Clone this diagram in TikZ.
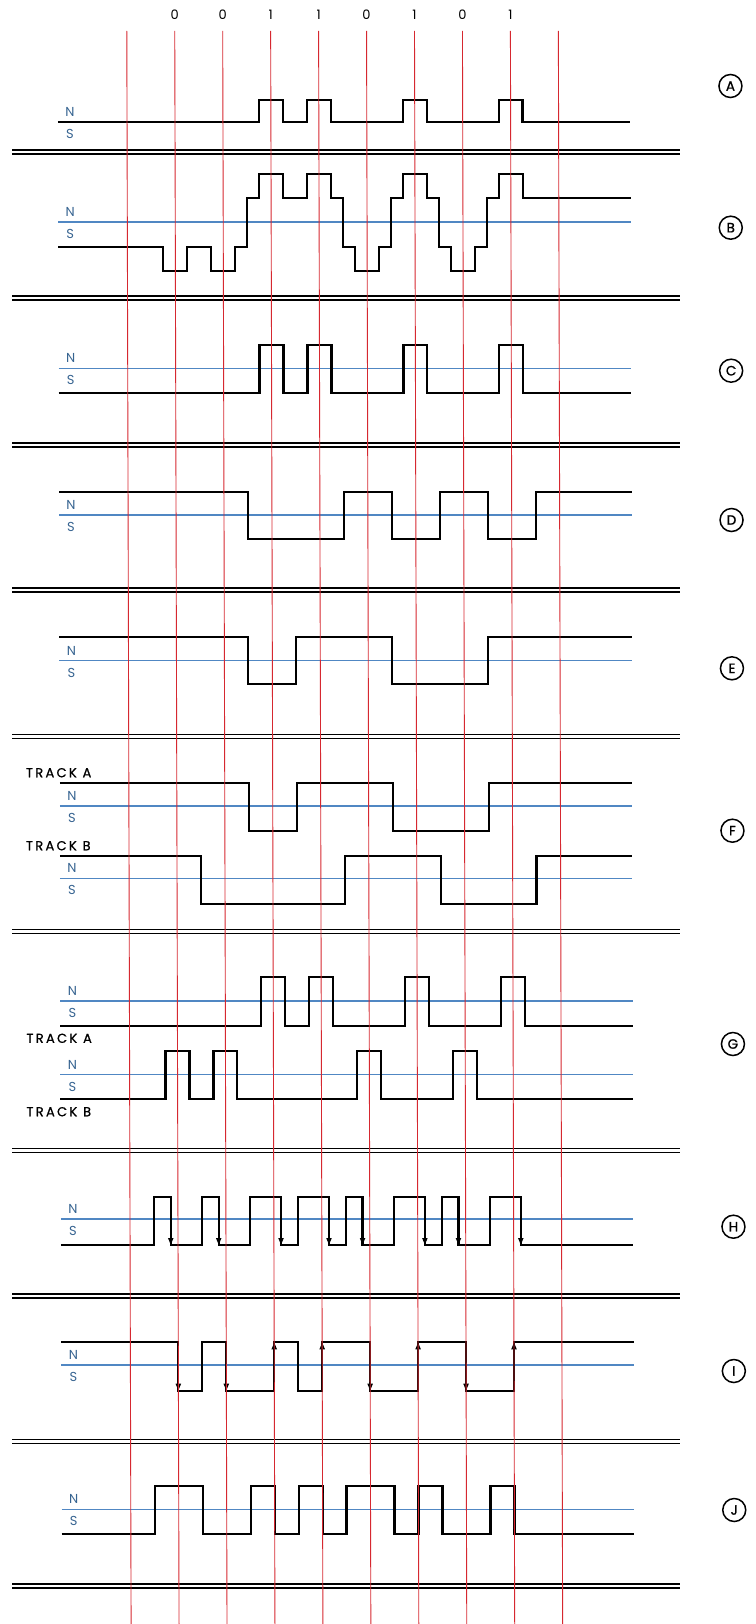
\documentclass[tikz,border=0pt]{standalone}
\usepackage{fontspec}
\usetikzlibrary{arrows.meta}
\newfontfamily\markfont{Poppins}
\newfontfamily\tagfont[FakeBold=1.2]{Poppins}
\newfontfamily\trackfont[LetterSpace=18,FakeBold=0.8]{Poppins}
\definecolor{gridred}{RGB}{214,40,48}
\definecolor{refblue}{RGB}{80,135,195}
\definecolor{poleblue}{RGB}{55,100,145}
% N / S labels either side of a reference level
\newcommand\polelabels[2]{%
  \node[pole] (n#1) at (-1.19,#2-10) {N};
  \node[pole] (s#1) at (-1.19,#2+12) {S};}

\begin{document}
\begin{tikzpicture}[
  x=47.95pt, y=-1pt,
  wave/.style={line width=2.2pt, line join=miter},
  edge/.style={wave, -{Triangle[length=7pt,width=5pt]}},
  refline/.style={draw=refblue, line width=1.1pt},
  redline/.style={draw=gridred, line width=0.9pt},
  sepline/.style={line width=1.5pt},
  pole/.style={text=poleblue, inner sep=0pt, font=\markfont\fontsize{13}{13}\selectfont},
  tag/.style={circle, draw, line width=1.5pt, minimum size=23pt, inner sep=0pt, font=\tagfont\fontsize{13.5}{13.5}\selectfont},
  trk/.style={anchor=west, inner sep=0pt, font=\trackfont\fontsize{13}{13}\selectfont},
  bit/.style={inner sep=0pt, font=\markfont\fontsize{13}{13}\selectfont}
]
\useasboundingbox (-2.6444,0) rectangle (13.1220,1624);

% data bits
\foreach \b [count=\i] in {0,0,1,1,0,1,0,1}
  \node[bit] (d\i) at (\i,15) {\b};

% double rules between the rows
\foreach \y in {150,296,443,588,734.5,929.5,1148.5,1294,1439.5,1584} {
  \draw[sepline] (-2.394,\y) -- (11.537,\y);
  \draw[sepline] (-2.394,\y+4) -- (11.537,\y+4);
}

% A
\begin{scope}[xshift=0.2pt]
\draw[wave] (-1.44,122) -| (2.75,100) -| (3.25,122) -| (3.75,100) -| (4.25,122)
  -| (5.75,100) -| (6.25,122) -| (7.75,100) -| (8.25,122) -- (10.5,122);
\polelabels{A}{122}
\node[tag] (tagA) at (12.585,86) {A};
\end{scope}

% B
\begin{scope}[xshift=0.5pt]
\draw[refline] (-1.44,222) -- (10.5,222);
\draw[wave] (-1.44,247.3) -| (0.75,271) -| (1.25,247.3) -| (1.75,271) -| (2.25,247.3)
  -| (2.5,198.3) -| (2.75,174.3) -| (3.25,198.3) -| (3.75,174.3) -| (4.25,198.3)
  -| (4.5,247.3) -| (4.75,271) -| (5.25,247.3) -| (5.5,198.3) -| (5.75,174.3)
  -| (6.25,198.3) -| (6.5,247.3) -| (6.75,271) -| (7.25,247.3) -| (7.5,198.3)
  -| (7.75,174.3) -| (8.25,198.3) -- (10.5,198.3);
\polelabels{B}{222}
\node[tag] (tagB) at (12.585,227.7) {B};
\end{scope}

% C
\begin{scope}[xshift=0.9pt]
\draw[refline] (-1.44,368.3) -- (10.5,368.3);
\draw[wave] (-1.44,393.3) -| (2.75,345) -| (3.25,393.3) -| (3.75,345) -| (4.25,393.3)
  -| (5.75,345) -| (6.25,393.3) -| (7.75,345) -| (8.25,393.3) -- (10.5,393.3);
\polelabels{C}{368.3}
\node[tag] (tagC) at (12.585,370.7) {C};
\end{scope}

% D
\begin{scope}[xshift=1.3pt]
\draw[refline] (-1.44,515) -- (10.5,515);
\draw[wave] (-1.44,491.7) -| (2.5,539.3) -| (4.5,491.7) -| (5.5,539.3) -| (6.5,491.7)
  -| (7.5,539.3) -| (8.5,491.7) -- (10.5,491.7);
\polelabels{D}{515}
\node[tag] (tagD) at (12.585,520) {D};
\end{scope}

% E
\begin{scope}[xshift=1.7pt]
\draw[refline] (-1.44,660.7) -- (10.5,660.7);
\draw[wave] (-1.44,636.7) -| (2.5,684.3) -| (3.5,636.7) -| (5.5,684.3) -| (7.5,636.7)
  -- (10.5,636.7);
\polelabels{E}{660.7}
\node[tag] (tagE) at (12.585,668.3) {E};
\end{scope}

% F
\begin{scope}[xshift=2.2pt]
\node[trk] (trkFa) at (-2.154,772.7) {TRACK A};
\draw[refline] (-1.44,806) -- (10.5,806);
\draw[wave] (-1.44,783.3) -| (2.5,830.7) -| (3.5,783.3) -| (5.5,830.7) -| (7.5,783.3)
  -- (10.5,783.3);
\polelabels{Fa}{806}
\node[trk] (trkFb) at (-2.154,845.7) {TRACK B};
\draw[refline] (-1.44,878.3) -- (10.5,878.3);
\draw[wave] (-1.44,855.7) -| (1.5,904) -| (4.5,855.7) -| (6.5,904) -| (8.5,855.7)
  -- (10.5,855.7);
\polelabels{Fb}{878.3}
\node[tag] (tagF) at (12.585,830.7) {F};
\end{scope}

% G
\begin{scope}[xshift=2.7pt]
\draw[refline] (-1.44,1001) -- (10.5,1001);
\draw[wave] (-1.44,1025.7) -| (2.75,976.7) -| (3.25,1025.7) -| (3.75,976.7) -| (4.25,1025.7)
  -| (5.75,976.7) -| (6.25,1025.7) -| (7.75,976.7) -| (8.25,1025.7) -- (10.5,1025.7);
\polelabels{Ga}{1001}
\node[trk] (trkGa) at (-2.154,1038.3) {TRACK A};
\draw[refline] (-1.44,1074.7) -- (10.5,1074.7);
\draw[wave] (-1.44,1099.3) -| (0.75,1051) -| (1.25,1099.3) -| (1.75,1051) -| (2.25,1099.3)
  -| (4.75,1051) -| (5.25,1099.3) -| (6.75,1051) -| (7.25,1099.3) -- (10.5,1099.3);
\polelabels{Gb}{1074.7}
\node[trk] (trkGb) at (-2.154,1111.7) {TRACK B};
\node[tag] (tagG) at (12.585,1044) {G};
\end{scope}

% H
\begin{scope}[xshift=3.2pt]
\draw[refline] (-1.44,1219) -- (10.5,1219);
\draw[wave] (-1.44,1245) -| (0.5,1197.3) -| (0.85,1245) -| (1.5,1197.3) -| (1.85,1245)
  -| (2.5,1197.3) -| (3.15,1245) -| (3.5,1197.3) -| (4.15,1245) -| (4.5,1197.3)
  -| (4.85,1245) -| (5.5,1197.3) -| (6.15,1245) -| (6.5,1197.3) -| (6.85,1245)
  -| (7.5,1197.3) -| (8.15,1245) -- (10.5,1245);
\foreach \t in {0.85,1.85,3.15,4.15,4.85,6.15,6.85,8.15}
  \draw[edge] (\t,1197.3) -- (\t,1245);
\polelabels{H}{1219}
\node[tag] (tagH) at (12.585,1226.7) {H};
\end{scope}

% I
\begin{scope}[xshift=3.6pt]
\draw[refline] (-1.44,1365) -- (10.5,1365);
\draw[wave] (-1.44,1342.3) -| (1,1390.7) -| (1.5,1342.3) -| (2,1390.7) -| (3,1342.3)
  -| (3.5,1390.7) -| (4,1342.3) -| (5,1390.7) -| (6,1342.3) -| (7,1390.7)
  -| (8,1342.3) -- (10.5,1342.3);
\foreach \t in {1,2,5,7}
  \draw[edge] (\t,1342.3) -- (\t,1390.7);
\foreach \t in {3,4,6,8}
  \draw[edge] (\t,1390.7) -- (\t,1342.3);
\polelabels{I}{1365}
\node[tag] (tagI) at (12.585,1371) {I};
\end{scope}

% J
\begin{scope}[xshift=4pt]
\draw[refline] (-1.44,1509.3) -- (10.5,1509.3);
\draw[wave] (-1.44,1534.3) -| (0.5,1486) -| (1.5,1534.3) -| (2.5,1486) -| (3,1534.3)
  -| (3.5,1486) -| (4,1534.3) -| (4.5,1486) -| (5.5,1534.3) -| (6,1486)
  -| (6.5,1534.3) -| (7.5,1486) -| (8,1534.3) -- (10.5,1534.3);
\polelabels{J}{1509.3}
\node[tag] (tagJ) at (12.585,1510) {J};
\end{scope}

% bit cell lines
\foreach \i in {0,...,9}
  \draw[redline] (\i,31) -- (\i+0.0897,1624);
\end{tikzpicture}
\end{document}
